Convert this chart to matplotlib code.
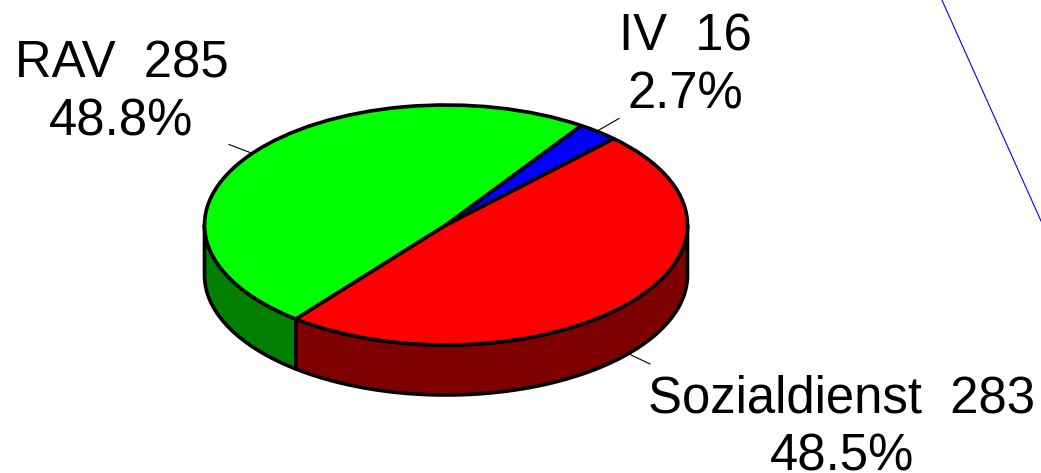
import numpy as np
import matplotlib
matplotlib.use("Agg")
import matplotlib.pyplot as plt
from matplotlib.patches import Wedge, Polygon
from matplotlib.transforms import Affine2D

names = ["RAV", "Sozialdienst", "IV"]
counts = [285, 283, 16]
percents = ["48.8%", "48.5%", "2.7%"]
top_colors = ["#00ff00", "#ff0000", "#0000ff"]
side_colors = ["#007f00", "#7f0000", "#00007f"]

plt.rcParams["font.family"] = ["Liberation Sans", "DejaVu Sans"]

W, H = 1041, 473
fig = plt.figure(figsize=(W / 100, H / 100), dpi=100)
ax = fig.add_axes([0, 0, 1, 1])
ax.set_xlim(0, W)
ax.set_ylim(H, 0)
ax.axis("off")

cx, cy = 446, 225
rx, ry = 241.5, 120
depth = 50
start = 55.9
lw = 2.6

ell = Affine2D().scale(rx, -ry).translate(cx, cy) + ax.transData

# wedge limits in degrees, counter clockwise from the IV/RAV edge
sweep = 360 * np.array(counts) / sum(counts)
edges = start + np.concatenate([[0], np.cumsum(sweep)])


def rim(a1, a2):
    a = np.radians(np.linspace(a1, a2, 100))
    return cx + rx * np.cos(a), cy - ry * np.sin(a)


# side wall, only the front half of the ellipse shows
for i in range(len(counts)):
    a1 = max(edges[i], 180)
    a2 = min(edges[i + 1], 360)
    if a1 >= a2:
        continue
    x, y = rim(a1, a2)
    pts = np.r_[np.c_[x, y], np.c_[x[::-1], y[::-1] + depth]]
    ax.add_patch(Polygon(pts, closed=True, facecolor=side_colors[i],
                         edgecolor="black", linewidth=lw, joinstyle="round", zorder=2))

# top face
for i in range(len(counts)):
    ax.add_patch(Wedge((0, 0), 1, edges[i], edges[i + 1], transform=ell,
                       facecolor=top_colors[i], edgecolor="black", linewidth=lw,
                       joinstyle="round", zorder=3))

# leader lines
ax.plot([229, 250], [144.5, 152.5], color="black", lw=0.8, zorder=1)
ax.plot([599, 619], [130, 118.5], color="black", lw=0.8, zorder=1)
ax.plot([629, 650], [354, 364], color="black", lw=0.8, zorder=1)

# stray blue line at the right edge
ax.plot([941, 1041], [-2, 221], color="#0000ff", lw=0.8, zorder=1)

# anchored on the baseline of the lower line
label_pos = [(121.5, 135), (842, 470), (685, 108)]
for i in range(len(counts)):
    ax.text(label_pos[i][0], label_pos[i][1],
            f"{names[i]}  {counts[i]}\n{percents[i]}",
            ha="center", va="baseline", fontsize=36.6, linespacing=1.22, color="black")

fig.savefig("out.png", dpi=100, facecolor="white")
